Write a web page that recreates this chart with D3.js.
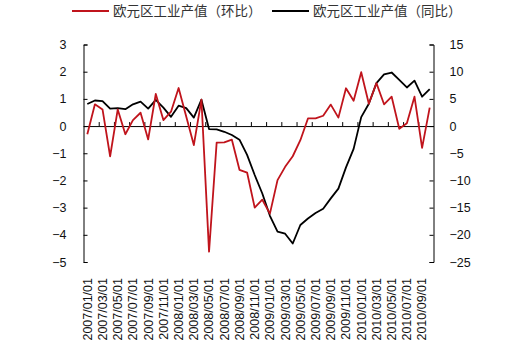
<!DOCTYPE html>
<html>
<head>
<meta charset="utf-8">
<script src="https://cdn.jsdelivr.net/npm/d3@7"></script>
<style>
  html, body { margin: 0; padding: 0; background: #fff; }
  svg { display: block; }
  .tick text { font-family: "Liberation Sans", Arial, sans-serif; }
</style>
</head>
<body>
<svg id="chart" width="512" height="347"></svg>
<script>
// Monthly categories 2007/01 .. 2010/10
const months = [
  "2007/01/01","2007/02/01","2007/03/01","2007/04/01","2007/05/01","2007/06/01",
  "2007/07/01","2007/08/01","2007/09/01","2007/10/01","2007/11/01","2007/12/01",
  "2008/01/01","2008/02/01","2008/03/01","2008/04/01","2008/05/01","2008/06/01",
  "2008/07/01","2008/08/01","2008/09/01","2008/10/01","2008/11/01","2008/12/01",
  "2009/01/01","2009/02/01","2009/03/01","2009/04/01","2009/05/01","2009/06/01",
  "2009/07/01","2009/08/01","2009/09/01","2009/10/01","2009/11/01","2009/12/01",
  "2010/01/01","2010/02/01","2010/03/01","2010/04/01","2010/05/01","2010/06/01",
  "2010/07/01","2010/08/01","2010/09/01","2010/10/01"
];

// Month-on-month change (left axis, %)
const momValues = [
  -0.30, 0.80, 0.61, -1.11, 0.61, -0.30, 0.22, 0.49, -0.49, 1.18, 0.22, 0.53,
  1.40, 0.35, -0.70, 0.97, -4.62, -0.61, -0.60, -0.50, -1.61, -1.71, -3.00, -2.71,
  -3.22, -1.99, -1.50, -1.11, -0.52, 0.28, 0.28, 0.38, 0.79, 0.31, 1.39, 0.93,
  1.98, 0.82, 1.58, 0.80, 1.08, -0.10, 0.10, 1.08, -0.80, 0.68
];

// Year-on-year change (right axis, %)
const yoyValues = [
  4.05, 4.7, 4.6, 3.2, 3.3, 3.1, 4.0, 4.5, 3.2, 4.8, 3.4, 1.7,
  3.75, 3.3, 1.55, 4.85, -0.55, -0.6, -1.05, -1.65, -2.5, -5.3, -9.0, -12.4,
  -16.5, -19.4, -19.8, -21.6, -18.2, -17.0, -16.0, -15.2, -13.3, -11.5, -7.6, -4.2,
  1.65, 4.1, 7.9, 9.5, 9.85, 8.5, 7.1, 8.35, 5.4, 6.8
];

const leftTicks = [-5, -4, -3, -2, -1, 0, 1, 2, 3];
const rightTicks = [-25, -20, -15, -10, -5, 0, 5, 10, 15];
const seriesNames = ["欧元区工业产值（环比）", "欧元区工业产值（同比）"];
const seriesColors = ["#c0141c", "#000000"];

const svg = d3.select("#chart");
const plot = { left: 83.5, right: 433.5, top: 44.5, bottom: 262 };

const x = d3.scaleBand().domain(months).range([plot.left, plot.right]).padding(0);
const xIdx = d3.scaleLinear().domain([0, months.length]).range([plot.left, plot.right]);
const yL = d3.scaleLinear().domain([-5, 3]).range([plot.bottom, plot.top]);
const yR = d3.scaleLinear().domain([-25, 15]).range([plot.bottom, plot.top]);

function styleAxis(g) {
  g.selectAll("path, line").attr("stroke", "#000").attr("stroke-width", 1);
  g.selectAll("text").attr("font-size", 12.5).attr("fill", "#111");
}

// Left axis
svg.append("g")
  .attr("transform", `translate(${plot.left},0)`)
  .call(d3.axisLeft(yL).tickValues(leftTicks).tickSizeInner(-4).tickSizeOuter(-4)
    .tickPadding(17).tickFormat(d3.format("d")))
  .call(styleAxis);

// Right axis
svg.append("g")
  .attr("transform", `translate(${plot.right},0)`)
  .call(d3.axisRight(yR).tickValues(rightTicks).tickSizeInner(-4).tickSizeOuter(-4)
    .tickPadding(16).tickFormat(d3.format("d")))
  .call(styleAxis)
  .selectAll("text").attr("text-anchor", "start");

// Category axis along the zero line, ticks every two months
const evenBounds = d3.range(2, months.length, 2);
svg.append("g")
  .attr("transform", `translate(0,${yL(0)})`)
  .call(d3.axisTop(xIdx).tickValues(evenBounds).tickSizeInner(4).tickSizeOuter(0).tickFormat(""))
  .call(styleAxis);

// Rotated date labels under the plot
const labelMonths = months.filter((d, i) => i % 2 === 0);
const xLab = svg.append("g")
  .attr("transform", `translate(0,${plot.bottom})`)
  .call(d3.axisBottom(x).tickValues(labelMonths).tickSize(0).tickPadding(0));
xLab.select(".domain").remove();
xLab.selectAll("text")
  .attr("font-size", 12.5)
  .attr("fill", "#111")
  .attr("text-anchor", "end")
  .attr("transform", "rotate(-90)")
  .attr("x", -16)
  .attr("y", 0)
  .attr("dy", "0.35em");

// Series lines
const lineL = d3.line()
  .x((d, i) => x(months[i]) + x.bandwidth() / 2)
  .y(d => yL(d));
const lineR = d3.line()
  .x((d, i) => x(months[i]) + x.bandwidth() / 2)
  .y(d => yR(d));

svg.append("path")
  .datum(yoyValues)
  .attr("fill", "none")
  .attr("stroke", seriesColors[1])
  .attr("stroke-width", 1.8)
  .attr("stroke-linejoin", "round")
  .attr("d", lineR);

svg.append("path")
  .datum(momValues)
  .attr("fill", "none")
  .attr("stroke", seriesColors[0])
  .attr("stroke-width", 1.8)
  .attr("stroke-linejoin", "round")
  .attr("d", lineL);

// Legend
const legendItems = [
  { name: seriesNames[0], color: seriesColors[0], x: 72 },
  { name: seriesNames[1], color: seriesColors[1], x: 272 }
];
const lg = svg.append("g").attr("class", "legend");
legendItems.forEach(item => {
  lg.append("line")
    .attr("x1", item.x).attr("x2", item.x + 37)
    .attr("y1", 11).attr("y2", 11)
    .attr("stroke", item.color).attr("stroke-width", 2);
  lg.append("text")
    .attr("x", item.x + 41).attr("y", 11)
    .attr("dy", "0.36em")
    .attr("font-family", '"Noto Sans CJK SC", sans-serif')
    .attr("font-size", 13.5)
    .attr("fill", "#333")
    .text(item.name);
});
</script>
</body>
</html>
